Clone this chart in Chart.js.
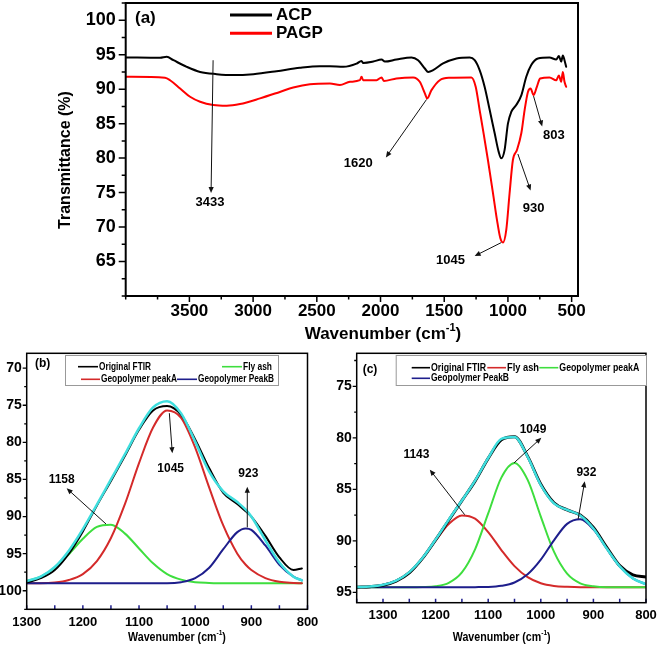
<!DOCTYPE html>
<html>
<head>
<meta charset="utf-8">
<script src="https://cdn.jsdelivr.net/npm/chart.js@4.4.1/dist/chart.umd.min.js"></script>
<style>
  body { margin: 0; background: #fff; }
  #wrap { position: relative; width: 661px; height: 648px; overflow: hidden; background: #fff; }
  canvas { position: absolute; }
</style>
</head>
<body>
<div id="wrap">
  <canvas id="chartA" width="661" height="350" style="left:0;top:0"></canvas>
  <canvas id="chartB" width="330" height="308" style="left:0;top:340px"></canvas>
  <canvas id="chartC" width="331" height="308" style="left:330px;top:340px"></canvas>
</div>
<script>
// (a) espectros FTIR
const acpWn = [4000, 3730, 3678, 3625, 3521, 3416, 3286, 3155, 2998, 2816, 2633, 2476, 2397, 2292, 2188, 2149, 2136, 2057, 1992, 1966, 1875, 1757, 1705, 1652, 1626, 1587, 1509, 1404, 1300, 1261, 1222, 1183, 1143, 1104, 1073, 1052, 1026, 1000, 974, 935, 895, 856, 817, 765, 674, 621, 600, 582, 569, 556, 543];
const acpT = [94.6, 94.55, 94.7, 94.2, 93.24, 92.5, 92.18, 92.04, 92.18, 92.6, 93.1, 93.34, 93.34, 93.24, 93.7, 94.1, 93.8, 94.0, 94.3, 94.0, 94.3, 94.6, 94.2, 93.0, 92.5, 92.76, 93.73, 94.45, 94.6, 94.2, 92.76, 90.35, 86.97, 83.6, 80.94, 79.97, 81.2, 85.0, 86.7, 87.7, 89.1, 91.8, 93.5, 94.45, 94.6, 94.3, 94.8, 94.0, 94.9, 94.2, 93.24];
const pagpWn = [4000, 3691, 3652, 3573, 3495, 3416, 3312, 3207, 3103, 2946, 2790, 2685, 2554, 2397, 2319, 2240, 2162, 2149, 2136, 2031, 1992, 1974, 1875, 1744, 1692, 1652, 1634, 1600, 1535, 1456, 1287, 1253, 1222, 1191, 1157, 1117, 1086, 1060, 1039, 1013, 987, 961, 929, 895, 869, 843, 822, 799, 773, 747, 674, 621, 600, 582, 569, 556, 543];
const pagpT = [91.8, 91.65, 91.3, 90.1, 88.9, 88.18, 87.7, 87.6, 87.84, 88.66, 89.6, 90.25, 90.73, 90.83, 90.6, 91.07, 91.3, 91.8, 91.3, 91.3, 91.7, 91.2, 91.55, 91.7, 91.07, 89.4, 88.66, 89.86, 91.3, 91.65, 91.7, 90.35, 86.97, 83.6, 79.73, 74.9, 71.04, 68.4, 67.76, 69.6, 74.9, 79.73, 81.18, 83.6, 86.97, 89.6, 90.1, 89.14, 90.35, 91.55, 91.7, 91.3, 92.0, 91.07, 92.5, 91.07, 90.35];

// (b) deconvolucao
const bWn = [1300, 1275, 1250, 1225, 1200, 1175, 1150, 1125, 1100, 1075, 1050, 1025, 1000, 975, 950, 925, 910, 900, 875, 850, 825, 810];
const bOriginal = [98.9, 98.3, 97.2, 95.0, 92.0, 88.5, 85.2, 81.8, 78.3, 75.7, 75.1, 76.3, 79.6, 83.5, 86.8, 88.3, 89.3, 90.0, 92.6, 95.5, 97.2, 97.0];
const bFit = [98.7, 98.1, 96.8, 94.6, 91.7, 88.4, 85.0, 81.6, 78.1, 75.3, 74.45, 76.1, 79.9, 83.95, 86.6, 88.05, 89.07, 90.0, 93.2, 96.2, 98.1, 98.6];
const bFlyAsh = [98.7, 98.1, 96.9, 95.1, 93.0, 91.4, 91.1, 92.3, 94.3, 96.3, 97.75, 98.5, 98.85, 98.95, 99.0, 99.0, 99.0, 99.0, 99.0, 99.0, 99.0, 99.0];
const bPeakA = [99.0, 99.0, 98.9, 98.55, 97.75, 96.0, 92.9, 88.3, 82.8, 78.0, 75.7, 76.7, 80.7, 86.1, 91.2, 95.0, 96.5, 97.2, 98.3, 98.8, 98.95, 99.0];
const bPeakB = [99.0, 99.0, 99.0, 99.0, 99.0, 99.0, 99.0, 99.0, 99.0, 99.0, 99.0, 98.85, 98.3, 96.9, 94.4, 92.1, 91.6, 91.8, 93.9, 96.5, 98.1, 98.6];

// (c) deconvolucao
const cWn = [1350, 1325, 1300, 1275, 1250, 1225, 1200, 1175, 1150, 1125, 1100, 1075, 1050, 1025, 1000, 975, 950, 925, 900, 875, 850, 825, 800];
const cOriginal = [94.5, 94.45, 94.3, 93.9, 93.1, 91.7, 89.9, 88.0, 86.1, 84.2, 82.0, 80.2, 79.9, 81.8, 84.5, 86.3, 87.0, 87.5, 88.7, 90.6, 92.4, 93.3, 93.5];
const cFit = [94.48, 94.43, 94.26, 93.85, 93.03, 91.67, 89.87, 87.94, 86.09, 84.15, 81.96, 80.11, 79.93, 81.85, 84.58, 86.37, 86.99, 87.53, 88.8, 90.72, 92.47, 93.64, 94.21];
const cFlyAsh = [94.48, 94.43, 94.26, 93.85, 93.03, 91.69, 89.97, 88.37, 87.53, 87.84, 89.15, 90.89, 92.45, 93.52, 94.11, 94.37, 94.46, 94.5, 94.5, 94.5, 94.5, 94.5, 94.5];
const cPeakA = [94.5, 94.5, 94.5, 94.5, 94.5, 94.48, 94.4, 94.07, 93.06, 90.82, 87.34, 83.86, 82.44, 84.08, 87.64, 91.05, 93.18, 94.12, 94.41, 94.5, 94.5, 94.5, 94.5];
const cPeakB = [94.5, 94.5, 94.5, 94.5, 94.5, 94.5, 94.5, 94.5, 94.5, 94.49, 94.47, 94.36, 94.04, 93.25, 91.83, 89.95, 88.35, 87.91, 88.89, 90.72, 92.47, 93.64, 94.21];

// marcas dos eixos
const aXTicks = [3500, 3000, 2500, 2000, 1500, 1000, 500];
const aYTicks = [65, 70, 75, 80, 85, 90, 95, 100];
const bXTicks = [1300, 1200, 1100, 1000, 900, 800];
const bYTicks = [70, 75, 80, 85, 90, 95, 100];
const cXTicks = [1300, 1200, 1100, 1000, 900, 800];
const cYTicks = [75, 80, 85, 90, 95];

const FONT = 'Arial, "Liberation Sans", Helvetica, sans-serif';
const NARROW = '"Liberation Sans Narrow", "Arial Narrow", Arial, "Liberation Sans", sans-serif';
const RED2 = '#d42a2a', GREEN = '#3ede3e', NAVY = '#1e1e8c', CYAN = '#3fdede';

const pts = (xs, ys) => xs.map((x, i) => ({ x: x, y: ys[i] }));

function arrow(ctx, x1, y1, x2, y2) {
    const ang = Math.atan2(y2 - y1, x2 - x1), h = 6, w = 2.6;
    ctx.strokeStyle = '#111'; ctx.fillStyle = '#111'; ctx.lineWidth = 1;
    ctx.beginPath();
    ctx.moveTo(x1, y1);
    ctx.lineTo(x2 - h * 0.7 * Math.cos(ang), y2 - h * 0.7 * Math.sin(ang));
    ctx.stroke();
    ctx.beginPath();
    ctx.moveTo(x2, y2);
    ctx.lineTo(x2 - h * Math.cos(ang) + w * Math.sin(ang), y2 - h * Math.sin(ang) - w * Math.cos(ang));
    ctx.lineTo(x2 - h * Math.cos(ang) - w * Math.sin(ang), y2 - h * Math.sin(ang) + w * Math.cos(ang));
    ctx.closePath();
    ctx.fill();
}

function waveTitle(ctx, cx, cy, size, family, sx) {
    const main = 'bold ' + size + 'px ' + family;
    const sup = 'bold ' + Math.round(size * 0.62) + 'px ' + family;
    ctx.save();
    ctx.translate(cx, cy);
    ctx.scale(sx, 1);
    ctx.fillStyle = '#000';
    ctx.textBaseline = 'middle';
    ctx.textAlign = 'left';
    ctx.font = main;
    const w1 = ctx.measureText('Wavenumber (cm').width, w3 = ctx.measureText(')').width;
    ctx.font = sup;
    const w2 = ctx.measureText('-1').width;
    let x = -(w1 + w2 + w3) / 2;
    ctx.font = main; ctx.fillText('Wavenumber (cm', x, 0); x += w1;
    ctx.font = sup; ctx.fillText('-1', x, -size * 0.38); x += w2;
    ctx.font = main; ctx.fillText(')', x, 0);
    ctx.restore();
}

function legendBox(ctx, box, rows) {
    ctx.save();
    ctx.fillStyle = '#fff';
    ctx.fillRect(box[0], box[1], box[2] - box[0], box[3] - box[1]);
    ctx.strokeStyle = '#999'; ctx.lineWidth = 1;
    ctx.strokeRect(box[0] + 0.5, box[1] + 0.5, box[2] - box[0], box[3] - box[1]);
    ctx.font = 'bold 11px ' + FONT;
    ctx.textBaseline = 'middle'; ctx.textAlign = 'left';
    rows.forEach(r => {
        ctx.strokeStyle = r.color; ctx.lineWidth = 1.6;
        ctx.beginPath(); ctx.moveTo(r.x1, r.y); ctx.lineTo(r.x2, r.y); ctx.stroke();
        ctx.fillStyle = '#000';
        ctx.fillText(r.text, r.x2 + 1, r.y, r.w);
    });
    ctx.restore();
}

function tickMarks(ctx, scale, majors, minorStep, st) {
    const area = scale.chart.chartArea;
    const lo = Math.min(scale.min, scale.max), hi = Math.max(scale.min, scale.max);
    const marks = [];
    for (let v = Math.ceil(lo / minorStep - 1e-6) * minorStep; v <= hi + 1e-6; v += minorStep) {
        const isMajor = majors.some(m => Math.abs(m - v) < 1e-6);
        marks.push({ p: scale.getPixelForValue(v), len: isMajor ? st.major : st.minor });
    }
    ctx.save();
    ctx.strokeStyle = st.color; ctx.lineWidth = st.width;
    ctx.beginPath();
    marks.forEach(m => {
        if (scale.isHorizontal()) {
            const y0 = area.bottom;
            ctx.moveTo(m.p, y0); ctx.lineTo(m.p, st.inward ? y0 - m.len : y0 + m.len);
        } else {
            const x0 = area.left;
            ctx.moveTo(x0, m.p); ctx.lineTo(st.inward ? x0 + m.len : x0 - m.len, m.p);
        }
    });
    ctx.stroke();
    ctx.restore();
}

function makeChart(id, c) {
    const decor = {
        id: 'decor_' + id,
        afterDraw(chart) {
            const ctx = chart.ctx, a = chart.chartArea;
            const xs = chart.scales.x, ys = chart.scales.y;
            tickMarks(ctx, xs, c.x.ticks, c.x.minor, c.x.mark);
            tickMarks(ctx, ys, c.y.ticks, c.y.minor, c.y.mark);
            ctx.save();
            ctx.strokeStyle = '#000'; ctx.lineWidth = c.frame;
            ctx.strokeRect(a.left, a.top, a.right - a.left, a.bottom - a.top);
            ctx.restore();
            // setas e numeros dos picos
            ctx.save();
            c.notes.forEach(n => {
                arrow(ctx, xs.getPixelForValue(n.from[0]), ys.getPixelForValue(n.from[1]),
                      xs.getPixelForValue(n.to[0]), ys.getPixelForValue(n.to[1]));
                ctx.fillStyle = '#000';
                ctx.font = c.noteFont;
                ctx.textAlign = 'center'; ctx.textBaseline = 'middle';
                ctx.fillText(n.label, xs.getPixelForValue(n.at[0]), ys.getPixelForValue(n.at[1]));
            });
            ctx.restore();
            c.extra(ctx, chart);
        }
    };
    return new Chart(document.getElementById(id), {
        type: 'line',
        data: { datasets: c.datasets },
        options: {
            responsive: false,
            animation: false,
            devicePixelRatio: 1,
            layout: { padding: c.pad },
            elements: {
                point: { radius: 0 },
                line: { tension: 0.3, cubicInterpolationMode: 'monotone', borderCapStyle: 'round' }
            },
            plugins: { legend: { display: false }, tooltip: { enabled: false } },
            scales: {
                x: {
                    type: 'linear', reverse: true, min: c.x.min, max: c.x.max,
                    afterBuildTicks: s => { s.ticks = c.x.ticks.map(v => ({ value: v })); },
                    afterFit: s => { s.height = c.xHeight; s.paddingLeft = 0; s.paddingRight = 0; },
                    grid: { display: false, drawTicks: false },
                    border: { display: false },
                    ticks: { autoSkip: false, maxRotation: 0, minRotation: 0, padding: c.x.pad, color: '#000', font: c.x.font, callback: v => String(v) }
                },
                y: {
                    type: 'linear', reverse: c.y.reverse, min: c.y.min, max: c.y.max,
                    afterBuildTicks: s => { s.ticks = c.y.ticks.map(v => ({ value: v })); },
                    afterFit: s => { s.width = c.yWidth; s.paddingTop = 0; s.paddingBottom = 0; },
                    grid: { display: false, drawTicks: false },
                    border: { display: false },
                    ticks: { autoSkip: false, padding: c.y.pad, color: '#000', font: c.y.font, callback: v => String(v) }
                }
            }
        },
        plugins: [decor]
    });
}

// Painel (a)
makeChart('chartA', {
    pad: { top: 3, right: 83, left: 0, bottom: 0 },
    yWidth: 125.7, xHeight: 54, frame: 2,
    x: { min: 450, max: 4000, ticks: aXTicks, minor: 250, pad: 5,
         font: { family: FONT, size: 17, weight: 'bold' },
         mark: { major: 6, minor: 3.5, inward: false, color: '#000', width: 1.5 } },
    y: { min: 60, max: 102.5, reverse: false, ticks: aYTicks, minor: 2.5, pad: 10,
         font: { family: FONT, size: 18, weight: 'bold' },
         mark: { major: 7, minor: 4, inward: false, color: '#000', width: 1.5 } },
    datasets: [
        { label: 'ACP', data: pts(acpWn, acpT), borderColor: '#000', borderWidth: 2 },
        { label: 'PAGP', data: pts(pagpWn, pagpT), borderColor: '#ff0000', borderWidth: 2 }
    ],
    noteFont: 'bold 13px ' + FONT,
    notes: [
        { from: [3314, 94.2], to: [3330, 74.95], label: '3433', at: [3338, 73.6] },
        { from: [1639, 88.5], to: [1958, 80.1], label: '1620', at: [2175, 79.25] },
        { from: [1052, 67.75], to: [1261, 65.8], label: '1045', at: [1451, 65.2] },
        { from: [922, 80.6], to: [822, 75.3], label: '930', at: [799, 72.7] },
        { from: [799, 89.0], to: [731, 84.6], label: '803', at: [640, 83.25] }
    ],
    extra(ctx) {
        ctx.save();
        ctx.fillStyle = '#000';
        ctx.font = 'bold 17px ' + FONT;
        ctx.textBaseline = 'middle'; ctx.textAlign = 'left';
        ctx.fillText('(a)', 135, 18);
        ctx.lineWidth = 3;
        ctx.strokeStyle = '#000';
        ctx.beginPath(); ctx.moveTo(230, 15); ctx.lineTo(272, 15); ctx.stroke();
        ctx.strokeStyle = '#ff0000';
        ctx.beginPath(); ctx.moveTo(230, 33.3); ctx.lineTo(272, 33.3); ctx.stroke();
        ctx.fillText('ACP', 276, 15);
        ctx.fillText('PAGP', 276, 33.3);
        ctx.translate(66, 160);
        ctx.rotate(-Math.PI / 2);
        ctx.textAlign = 'center';
        ctx.font = 'bold 16px ' + FONT;
        ctx.fillText('Transmittance (%)', 0, 0);
        ctx.restore();
        waveTitle(ctx, 383, 334, 17, FONT, 1);
    }
});

// Painel (b)  (Chart.js desenha o primeiro dataset por cima)
makeChart('chartB', {
    pad: { top: 13.3, right: 22.5, left: 0, bottom: 0 },
    yWidth: 26.7, xHeight: 38.7, frame: 1.5,
    x: { min: 800, max: 1300, ticks: bXTicks, minor: 50, pad: 5,
         font: { family: NARROW, size: 13, weight: 'bold' },
         mark: { major: 4, minor: 4, inward: true, color: NAVY, width: 1.5 } },
    y: { min: 68, max: 102.5, reverse: true, ticks: bYTicks, minor: 2.5, pad: 5,
         font: { family: FONT, size: 14, weight: 'bold' },
         mark: { major: 4, minor: 2.5, inward: false, color: '#000', width: 1.3 } },
    datasets: [
        { label: 'Fit', data: pts(bWn, bFit), borderColor: CYAN, borderWidth: 2.5 },
        { label: 'Original FTIR', data: pts(bWn, bOriginal), borderColor: '#000', borderWidth: 2 },
        { label: 'Geopolymer PeakB', data: pts(bWn, bPeakB), borderColor: NAVY, borderWidth: 2 },
        { label: 'Geopolymer peakA', data: pts(bWn, bPeakA), borderColor: RED2, borderWidth: 2 },
        { label: 'Fly ash', data: pts(bWn, bFlyAsh), borderColor: GREEN, borderWidth: 2 }
    ],
    noteFont: 'bold 12px ' + FONT,
    notes: [
        { from: [1158.8, 91.0], to: [1228.8, 86.2], label: '1158', at: [1237.7, 85.07] },
        { from: [1046, 76.07], to: [1040.7, 81.47], label: '1045', at: [1043.6, 83.5] },
        { from: [907.2, 91.46], to: [907.2, 86.0], label: '923', at: [905.4, 84.26] }
    ],
    extra(ctx) {
        legendBox(ctx, [65, 15, 278, 45], [
            { x1: 78, x2: 98, y: 26.7, color: '#000', text: 'Original FTIR', w: 52 },
            { x1: 222, x2: 242, y: 26.7, color: GREEN, text: 'Fly ash', w: 29 },
            { x1: 81, x2: 100, y: 39.3, color: RED2, text: 'Geopolymer peakA', w: 76 },
            { x1: 177, x2: 197, y: 39.3, color: NAVY, text: 'Geopolymer PeakB', w: 76 }
        ]);
        ctx.save();
        ctx.fillStyle = '#000';
        ctx.font = 'bold 12px ' + FONT;
        ctx.textAlign = 'center'; ctx.textBaseline = 'middle';
        ctx.fillText('(b)', 42.7, 23.3);
        ctx.restore();
        waveTitle(ctx, 177, 297.5, 13, FONT, 0.82);
    }
});

// Painel (c)
makeChart('chartC', {
    pad: { top: 13.3, right: 15, left: 0, bottom: 0 },
    yWidth: 26.7, xHeight: 45.3, frame: 1.5,
    x: { min: 800, max: 1350, ticks: cXTicks, minor: 50, pad: 5,
         font: { family: NARROW, size: 13, weight: 'bold' },
         mark: { major: 4, minor: 4, inward: true, color: NAVY, width: 1.5 } },
    y: { min: 71.8, max: 96, reverse: true, ticks: cYTicks, minor: 2.5, pad: 5,
         font: { family: FONT, size: 14, weight: 'bold' },
         mark: { major: 4, minor: 2.5, inward: false, color: '#000', width: 1.3 } },
    datasets: [
        { label: 'Fit', data: pts(cWn, cFit), borderColor: CYAN, borderWidth: 2.5 },
        { label: 'Original FTIR', data: pts(cWn, cOriginal), borderColor: '#000', borderWidth: 3 },
        { label: 'Geopolymer PeakB', data: pts(cWn, cPeakB), borderColor: NAVY, borderWidth: 2 },
        { label: 'Geopolymer peakA', data: pts(cWn, cPeakA), borderColor: GREEN, borderWidth: 2 },
        { label: 'Fly ash', data: pts(cWn, cFlyAsh), borderColor: RED2, borderWidth: 2 }
    ],
    noteFont: 'bold 12px ' + FONT,
    notes: [
        { from: [1144.7, 87.46], to: [1211, 83.09], label: '1143', at: [1236.5, 81.63] },
        { from: [1051, 82.44], to: [999, 80.0], label: '1049', at: [1014.8, 79.2] },
        { from: [929, 87.88], to: [916.5, 84.22], label: '932', at: [913.3, 83.4] }
    ],
    extra(ctx) {
        legendBox(ctx, [65.7, 15, 316, 45], [
            { x1: 81.7, x2: 100, y: 27.7, color: '#000', text: 'Original FTIR', w: 55 },
            { x1: 157.3, x2: 176, y: 27.7, color: RED2, text: 'Fly ash', w: 32 },
            { x1: 209.3, x2: 228.3, y: 27.7, color: GREEN, text: 'Geopolymer peakA', w: 80 },
            { x1: 81.7, x2: 100, y: 38.3, color: NAVY, text: 'Geopolymer PeakB', w: 78 }
        ]);
        ctx.save();
        ctx.fillStyle = '#000';
        ctx.font = 'bold 12px ' + FONT;
        ctx.textAlign = 'center'; ctx.textBaseline = 'middle';
        ctx.fillText('(c)', 40, 29.3);
        ctx.restore();
        waveTitle(ctx, 171.7, 297.5, 13, FONT, 0.82);
    }
});
</script>
</body>
</html>
